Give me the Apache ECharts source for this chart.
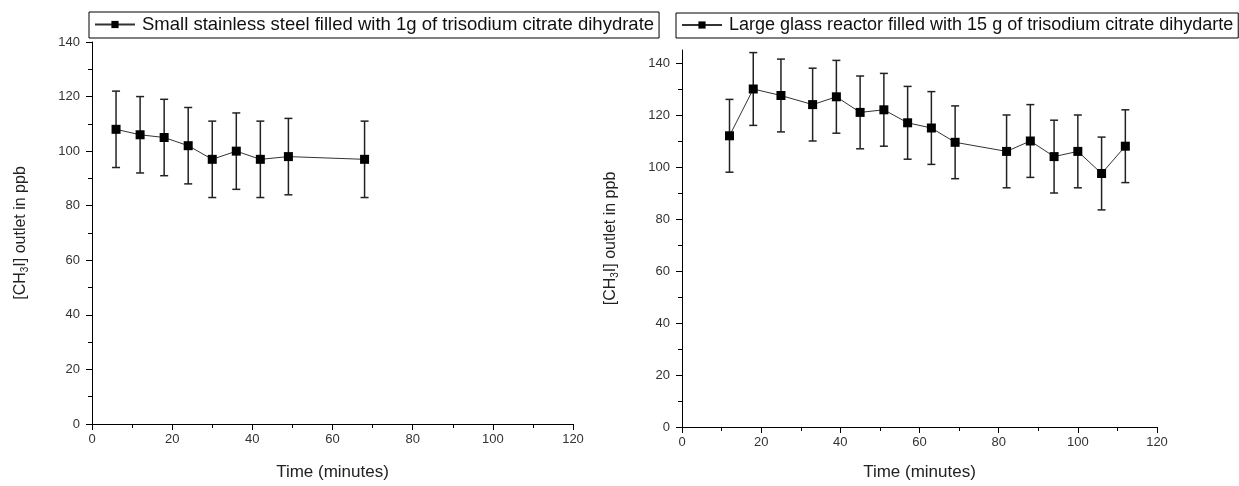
<!DOCTYPE html>
<html>
<head>
<meta charset="utf-8">
<title>CH3I outlet</title>
<script src="https://cdn.jsdelivr.net/npm/echarts@6/dist/echarts.min.js"></script>
<style>
  html, body { margin: 0; padding: 0; background: #fff; }
  #chart { width: 1239px; height: 486px; }
</style>
</head>
<body>
<div id="chart"></div>
<script>
// data
const timeSmall = [6, 12, 18, 24, 30, 36, 42, 49, 68]
const valSmall = [108, 106, 105, 102, 97, 100, 97, 98, 97]
const errSmall = [14, 14, 14, 14, 14, 14, 14, 14, 14]

const timeLarge = [12, 18, 25, 33, 39, 45, 51, 57, 63, 69, 82, 88, 94, 100, 106, 112]
const valLarge = [112, 130, 127.5, 124, 127, 121, 122, 117, 115, 109.5, 106, 110, 104, 106, 97.5, 108]
const errLarge = [14, 14, 14, 14, 14, 14, 14, 14, 14, 14, 14, 14, 14, 14, 14, 14]

const xTicks = [0, 20, 40, 60, 80, 100, 120]
const yTicks = [0, 20, 40, 60, 80, 100, 120, 140]
const yMinorTicks = [10, 30, 50, 70, 90, 110, 130]

const nameSmall = 'Small stainless steel filled with 1g of trisodium citrate dihydrate'
const nameLarge = 'Large glass reactor filled with 15 g of trisodium citrate dihydarte'

const font = 'Liberation Sans, Arial, sans-serif'

const chart = echarts.init(document.getElementById('chart'))

// 误差棒
function errorBar(params, api) {
  const x = api.value(0)
  const y = api.value(1)
  const e = api.value(2)
  const top = api.coord([x, y + e])
  const bot = api.coord([x, y - e])
  const cap = 4
  const style = { stroke: '#222', lineWidth: 1.5 }
  return {
    type: 'group',
    children: [
      { type: 'line', shape: { x1: top[0], y1: top[1], x2: bot[0], y2: bot[1] }, style: style },
      { type: 'line', shape: { x1: top[0] - cap, y1: top[1], x2: top[0] + cap, y2: top[1] }, style: style },
      { type: 'line', shape: { x1: bot[0] - cap, y1: bot[1], x2: bot[0] + cap, y2: bot[1] }, style: style }
    ]
  }
}

function xAxis(gridIndex, gap) {
  return {
    type: 'value',
    gridIndex: gridIndex,
    min: 0,
    max: 120,
    interval: 20,
    name: 'Time (minutes)',
    nameLocation: 'middle',
    nameGap: gap,
    nameTextStyle: { fontFamily: font, fontSize: 17, color: '#222' },
    axisLine: { lineStyle: { color: '#000', width: 1 } },
    axisTick: { length: 6, lineStyle: { color: '#000' } },
    minorTick: { show: true, splitNumber: 2, length: 4, lineStyle: { color: '#000' } },
    axisLabel: { fontFamily: font, fontSize: 13, color: '#333', margin: 9 },
    splitLine: { show: false }
  }
}

const yName = '{t|[CH}{s|3}{t|I] outlet in ppb}'
const yRich = {
  t: { fontFamily: font, fontSize: 16, color: '#222', lineHeight: 18 },
  s: { fontFamily: font, fontSize: 10, color: '#222', lineHeight: 10, verticalAlign: 'bottom', padding: [10, 0, 0, 0] }
}

function yAxis(gridIndex, max) {
  return {
    type: 'value',
    gridIndex: gridIndex,
    position: 'left',
    min: 0,
    max: max,
    interval: 20,
    name: yName,
    nameLocation: 'middle',
    nameGap: 62,
    nameTextStyle: { rich: yRich },
    axisLine: { show: true, lineStyle: { color: '#000', width: 1 } },
    axisTick: { show: true, length: 6, customValues: yTicks, lineStyle: { color: '#000' } },
    axisLabel: { fontFamily: font, fontSize: 13, color: '#333', margin: 12, customValues: yTicks },
    splitLine: { show: false }
  }
}

// 次刻度，单独一根轴
function yMinor(gridIndex, max) {
  return {
    type: 'value',
    gridIndex: gridIndex,
    position: 'left',
    offset: 0,
    min: 0,
    max: max,
    interval: 20,
    axisLine: { show: false },
    axisTick: { show: true, length: 4, customValues: yMinorTicks, lineStyle: { color: '#000' } },
    axisLabel: { show: false },
    splitLine: { show: false }
  }
}

function zip(a, b, c) {
  return a.map((v, i) => c ? [v, b[i], c[i]] : [v, b[i]])
}

function legend(name, left, top, size) {
  return {
    data: [name],
    left: left,
    top: top,
    padding: [3, 5, 4, 5],
    itemWidth: 40,
    itemHeight: 9,
    itemGap: 4,
    borderColor: '#000',
    borderWidth: 1,
    borderRadius: 0,
    backgroundColor: '#fff',
    textStyle: { fontFamily: font, fontSize: size, color: '#111', padding: [0, 0, 0, 2] }
  }
}

const option = {
  backgroundColor: '#fff',
  animation: false,
  legend: [legend(nameSmall, 89, 12, 18.5), legend(nameLarge, 676, 13, 18)],
  grid: [
    { left: 92, top: 42, width: 481, height: 385 },
    { left: 682, top: 50, width: 475, height: 380 }
  ],
  xAxis: [xAxis(0, 40), xAxis(1, 37)],
  yAxis: [yAxis(0, 140), yMinor(0, 140), yAxis(1, 145), yMinor(1, 145)],
  series: [
    {
      type: 'custom',
      xAxisIndex: 0,
      yAxisIndex: 0,
      renderItem: errorBar,
      data: zip(timeSmall, valSmall, errSmall),
      z: 1
    },
    {
      name: nameSmall,
      type: 'line',
      xAxisIndex: 0,
      yAxisIndex: 0,
      data: zip(timeSmall, valSmall),
      symbol: 'rect',
      symbolSize: 9,
      itemStyle: { color: '#000' },
      lineStyle: { color: '#333', width: 1 },
      z: 3
    },
    {
      type: 'custom',
      xAxisIndex: 1,
      yAxisIndex: 2,
      renderItem: errorBar,
      data: zip(timeLarge, valLarge, errLarge),
      z: 1
    },
    {
      name: nameLarge,
      type: 'line',
      xAxisIndex: 1,
      yAxisIndex: 2,
      data: zip(timeLarge, valLarge),
      symbol: 'rect',
      symbolSize: 9,
      itemStyle: { color: '#000' },
      lineStyle: { color: '#333', width: 1 },
      z: 3
    }
  ]
}

chart.setOption(option)
</script>
</body>
</html>
